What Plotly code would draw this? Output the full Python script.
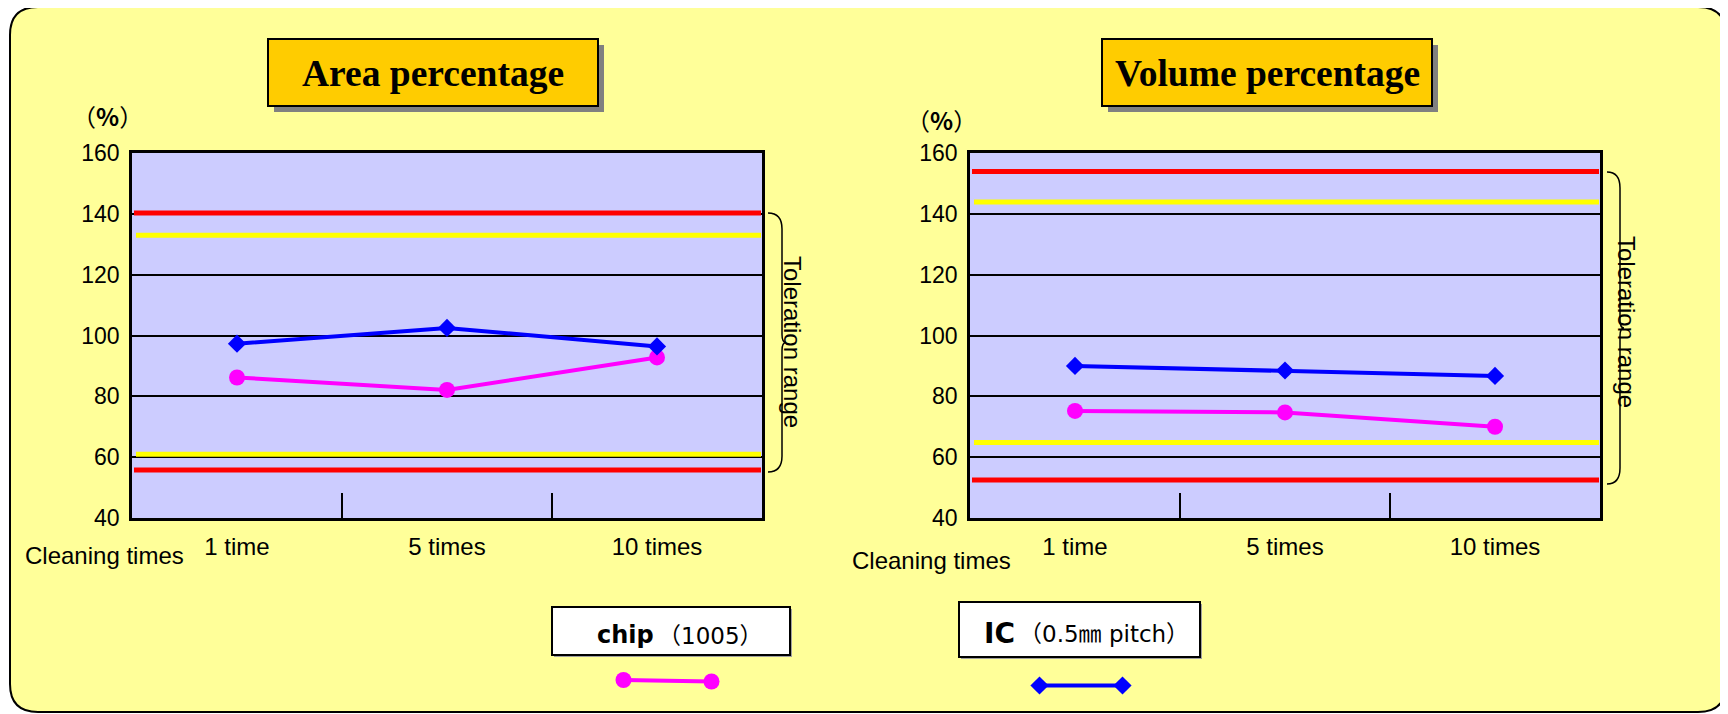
import plotly.graph_objects as go

# ---------------- data ----------------
categories = ["1 time", "5 times", "10 times"]
area_chip = [86.2, 82.1, 92.8]
area_ic = [97.3, 102.5, 96.4]
volume_chip = [75.2, 74.7, 70.0]
volume_ic = [90.0, 88.5, 86.7]
area_outer_limits = [140.3, 55.8]     # red
area_inner_limits = [133.0, 61.0]     # yellow
volume_outer_limits = [153.9, 52.5]   # red
volume_inner_limits = [143.9, 64.8]   # yellow
y_ticks = [40, 60, 80, 100, 120, 140, 160]

W, H = 1728, 714
OFF = 8  # page body margin


def X(px):
    return (px - OFF) / W


def Y(py):
    return 1 - (py - OFF) / H


PINK = "#FF00FF"
BLUE = "#0000FF"
SANS = "Liberation Sans, Arial, sans-serif"
CJK = "Noto Sans CJK JP, Liberation Sans, sans-serif"
DJV = "DejaVu Sans, Noto Sans CJK JP, sans-serif"
SERIF = "Liberation Serif, Times New Roman, serif"

fig = go.Figure()

# data traces
for xa, ya, chip, ic in [("x", "y", area_chip, area_ic), ("x2", "y2", volume_chip, volume_ic)]:
    fig.add_trace(go.Scatter(x=categories, y=chip, xaxis=xa, yaxis=ya, mode="lines+markers",
                             line=dict(color=PINK, width=4),
                             marker=dict(symbol="circle", size=16, color=PINK),
                             name="chip (1005)", cliponaxis=False))
    fig.add_trace(go.Scatter(x=categories, y=ic, xaxis=xa, yaxis=ya, mode="lines+markers",
                             line=dict(color=BLUE, width=4),
                             marker=dict(symbol="diamond", size=14, color=BLUE),
                             name="IC (0.5mm pitch)", cliponaxis=False))

# legend key samples on a full-page pixel overlay axis
fig.add_trace(go.Scatter(x=[623.5 - OFF, 711.5 - OFF], y=[680 - OFF, 681.5 - OFF],
                         xaxis="x3", yaxis="y3",
                         mode="lines+markers", line=dict(color=PINK, width=4),
                         marker=dict(symbol="circle", size=16, color=PINK), cliponaxis=False))
fig.add_trace(go.Scatter(x=[1039.5 - OFF, 1122.5 - OFF], y=[685.5 - OFF, 685.5 - OFF],
                         xaxis="x3", yaxis="y3",
                         mode="lines+markers", line=dict(color=BLUE, width=4),
                         marker=dict(symbol="diamond", size=14, color=BLUE), cliponaxis=False))

plot_left = (132, 762)
plot_right = (970, 1600)
plot_top, plot_bottom = 153, 518

xcommon = dict(type="category", range=[-0.5, 2.5], showline=True, mirror=True,
               linecolor="black", linewidth=2.5, ticks="inside", tickson="boundaries",
               ticklen=25, tickwidth=1.5, tickcolor="black", showgrid=False,
               tickfont=dict(family=SANS, size=24, color="black"), ticklabelstandoff=5,
               fixedrange=True, automargin=False)
ycommon = dict(range=[40, 160], tickvals=y_ticks, showgrid=True, gridcolor="black",
               gridwidth=2, showline=True, mirror=True, linecolor="black", linewidth=2.5,
               zeroline=False, ticks="", tickfont=dict(family=SANS, size=23, color="black"),
               ticklabelstandoff=5, fixedrange=True, automargin=False,
               domain=[Y(plot_bottom), Y(plot_top)])

fig.update_layout(
    width=W, height=H, margin=dict(l=0, r=0, t=0, b=0, autoexpand=False),
    paper_bgcolor="white", plot_bgcolor="rgba(0,0,0,0)",
    showlegend=False, hovermode=False,
    xaxis=dict(domain=[X(plot_left[0]), X(plot_left[1])], anchor="y", **xcommon),
    yaxis=dict(anchor="x", **ycommon),
    xaxis2=dict(domain=[X(plot_right[0]), X(plot_right[1])], anchor="y2", **xcommon),
    yaxis2=dict(anchor="x2", **ycommon),
    xaxis3=dict(domain=[0, 1], range=[0, W], visible=False, anchor="y3", fixedrange=True,
                automargin=False),
    yaxis3=dict(domain=[0, 1], range=[H, 0], visible=False, anchor="x3", fixedrange=True,
                automargin=False),
)

shapes = []


def rounded(x0, y0, x1, y1, r):
    rx, ry = r / W, r / H
    a, b, c, d = X(x0), Y(y0), X(x1), Y(y1)  # b top, d bottom (paper)
    return (f"M {a+rx},{b} L {c-rx},{b} Q {c},{b} {c},{b-ry} L {c},{d+ry} "
            f"Q {c},{d} {c-rx},{d} L {a+rx},{d} Q {a},{d} {a},{d+ry} L {a},{b-ry} "
            f"Q {a},{b} {a+rx},{b} Z")


# background panel
shapes.append(dict(type="path", path=rounded(10, 7, 1726, 712, 28), xref="paper", yref="paper",
                   fillcolor="#FFFF99", line=dict(color="black", width=2), layer="below"))
# plot area fills
for (l, r) in [plot_left, plot_right]:
    shapes.append(dict(type="rect", xref="paper", yref="paper", x0=X(l), x1=X(r),
                       y0=Y(plot_bottom), y1=Y(plot_top), fillcolor="#CCCCFF",
                       line=dict(width=0), layer="below"))

# tolerance lines
for (l, r), yr, outer, inner in [(plot_left, "y", area_outer_limits, area_inner_limits),
                                 (plot_right, "y2", volume_outer_limits, volume_inner_limits)]:
    for v in inner:
        shapes.append(dict(type="line", xref="paper", yref=yr, x0=X(l + 4), x1=X(r - 1),
                           y0=v, y1=v, line=dict(color="#FFFF00", width=5)))
    for v in outer:
        shapes.append(dict(type="line", xref="paper", yref=yr, x0=X(l + 2), x1=X(r - 1),
                           y0=v, y1=v, line=dict(color="#FF0000", width=5)))

# title boxes with shadow
for (x0, x1) in [(268, 598), (1102, 1432)]:
    shapes.append(dict(type="rect", xref="paper", yref="paper", x0=X(x0 + 6), x1=X(x1 + 6),
                       y0=Y(112), y1=Y(45), fillcolor="#808080", line=dict(width=0)))
    shapes.append(dict(type="rect", xref="paper", yref="paper", x0=X(x0), x1=X(x1),
                       y0=Y(106), y1=Y(39), fillcolor="#FFCC00",
                       line=dict(color="black", width=2)))

# legend boxes
for (x0, y0, x1, y1) in [(552, 607, 790, 655), (959, 602, 1200, 657)]:
    shapes.append(dict(type="rect", xref="paper", yref="paper", x0=X(x0 + 2), x1=X(x1 + 2),
                       y0=Y(y1 + 2), y1=Y(y0 + 2), fillcolor="#A0A0A0", line=dict(width=0)))
    shapes.append(dict(type="rect", xref="paper", yref="paper", x0=X(x0), x1=X(x1),
                       y0=Y(y1), y1=Y(y0), fillcolor="white",
                       line=dict(color="black", width=2)))


def brace(x0, xv, top, bottom):
    mid = (top + bottom) / 2
    pts = [
        f"M {X(x0)},{Y(top)}",
        f"Q {X(xv)},{Y(top)} {X(xv)},{Y(top + 16)}",
        f"L {X(xv)},{Y(mid - 8)}",
        f"Q {X(xv)},{Y(mid)} {X(xv + 4)},{Y(mid)}",
        f"Q {X(xv)},{Y(mid)} {X(xv)},{Y(mid + 8)}",
        f"L {X(xv)},{Y(bottom - 16)}",
        f"Q {X(xv)},{Y(bottom)} {X(x0)},{Y(bottom)}",
    ]
    return " ".join(pts)


shapes.append(dict(type="path", xref="paper", yref="paper", path=brace(768, 782, 213, 472),
                   line=dict(color="black", width=1.5)))
shapes.append(dict(type="path", xref="paper", yref="paper", path=brace(1607, 1620, 172, 484),
                   line=dict(color="black", width=1.5)))

fig.update_layout(shapes=shapes)

ann = []


def text(px, py, s, size, family=SANS, angle=0, xanchor="center"):
    ann.append(dict(xref="paper", yref="paper", x=X(px), y=Y(py), text=s, showarrow=False,
                    xanchor=xanchor, yanchor="middle", textangle=angle,
                    font=dict(family=family, size=size, color="black")))


text(433, 73, "<b>Area percentage</b>", 37.5, SERIF)
text(1267, 73, "<b>Volume percentage</b>", 37.5, SERIF)
text(107, 115, "（<b>%</b>）", 24, CJK)
text(941, 119, "（<b>%</b>）", 24, CJK)
text(104, 555, "Cleaning times", 24)
text(931, 560, "Cleaning times", 24)
text(793, 342, "Toleration range", 24, angle=90)
text(1627, 322, "Toleration range", 24, angle=90)
# legend labels
text(656, 635, "<b>chip</b>", 24, DJV, xanchor="right")
text(656, 636, "（1005）", 23, DJV, xanchor="left")
text(1017, 633, "<b>IC</b>", 28, DJV, xanchor="right")
text(1017, 634, "（0.5㎜ pitch）", 23, DJV, xanchor="left")
fig.update_layout(annotations=ann)

fig.write_html("out.html")
